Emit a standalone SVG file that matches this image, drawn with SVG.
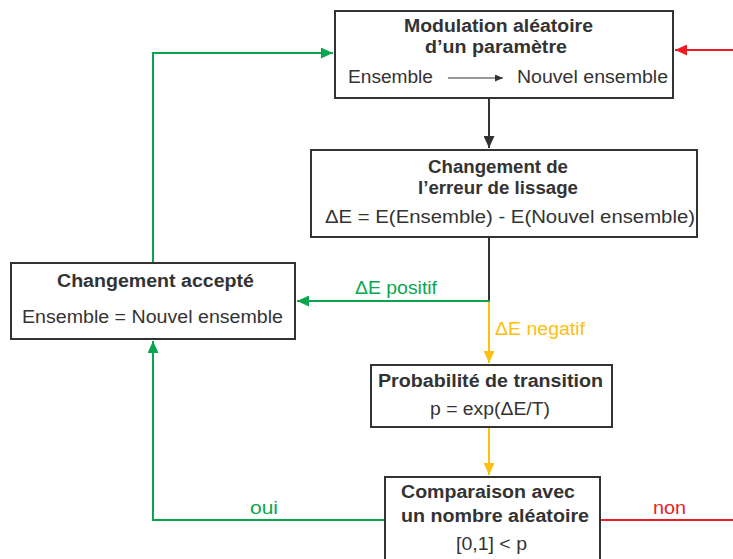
<svg xmlns="http://www.w3.org/2000/svg" width="733" height="559" viewBox="0 0 733 559">
<style>
.box{fill:#fff;stroke:#333;stroke-width:2}
.t{font-family:"Liberation Sans",Arial,sans-serif;font-size:18px;fill:#333}
.b{font-weight:bold}
.c{fill:none;stroke-width:2}
.g{stroke:#0aa64f}.r{stroke:#ed1c24}.y{stroke:#fdc010}.k{stroke:#333}
.lg{fill:#0aa64f}.lr{fill:#ed1c24}.ly{fill:#fdc010}
</style>
<defs>
<marker id="ag" markerUnits="userSpaceOnUse" markerWidth="13" markerHeight="11" refX="12" refY="5.5" orient="auto"><path d="M0,0 L12,5.5 L0,11 z" fill="#0aa64f"/></marker>
<marker id="ar" markerUnits="userSpaceOnUse" markerWidth="13" markerHeight="11" refX="12" refY="5.5" orient="auto"><path d="M0,0 L12,5.5 L0,11 z" fill="#ed1c24"/></marker>
<marker id="ay" markerUnits="userSpaceOnUse" markerWidth="13" markerHeight="11" refX="12" refY="5.5" orient="auto"><path d="M0,0 L12,5.5 L0,11 z" fill="#fdc010"/></marker>
<marker id="ak" markerUnits="userSpaceOnUse" markerWidth="13" markerHeight="11" refX="12" refY="5.5" orient="auto"><path d="M0,0 L12,5.5 L0,11 z" fill="#333"/></marker>
<marker id="as" markerUnits="userSpaceOnUse" markerWidth="9" markerHeight="7" refX="8" refY="3.5" orient="auto"><path d="M0,0 L8,3.5 L0,7 z" fill="#333"/></marker>
</defs>
<rect width="733" height="559" fill="#fff"/>
<g id="connectors">
<path class="c r" d="M733,50 H675" marker-end="url(#ar)"/>
<path class="c k" d="M489,99 V148" marker-end="url(#ak)"/>
<path class="c g" d="M153,262 V53 H333" marker-end="url(#ag)"/>
<path class="c k" d="M489,238 V302"/>
<path class="c g" d="M490,301 H297" marker-end="url(#ag)"/>
<path class="c y" d="M489,302 V363" marker-end="url(#ay)"/>
<path class="c y" d="M489,428 V475" marker-end="url(#ay)"/>
<path class="c g" d="M384,520 H153 V341" marker-end="url(#ag)"/>
<path class="c r" d="M601,520 H733"/>
<text class="t lg" x="355" y="294" textLength="82" lengthAdjust="spacingAndGlyphs">ΔE positif</text>
<text class="t ly" x="495" y="335" textLength="90" lengthAdjust="spacingAndGlyphs">ΔE negatif</text>
<text class="t lg" x="250" y="514" textLength="28" lengthAdjust="spacingAndGlyphs">oui</text>
<text class="t lr" x="653" y="514" textLength="33" lengthAdjust="spacingAndGlyphs">non</text>
</g>
<g id="n1">
<rect class="box" x="335" y="11" width="338" height="87"/>
<text class="t b" x="404" y="32" textLength="189" lengthAdjust="spacingAndGlyphs">Modulation aléatoire</text>
<text class="t b" x="425" y="53" textLength="142" lengthAdjust="spacingAndGlyphs">d’un paramètre</text>
<text class="t" x="348" y="83" textLength="85" lengthAdjust="spacingAndGlyphs">Ensemble</text>
<path d="M448,78 H503" stroke="#333" stroke-width="1.2" marker-end="url(#as)"/>
<text class="t" x="517" y="83" textLength="151" lengthAdjust="spacingAndGlyphs">Nouvel ensemble</text>
</g>
<g id="n2">
<rect class="box" x="311" y="150" width="386" height="87"/>
<text class="t b" x="428" y="173" textLength="140" lengthAdjust="spacingAndGlyphs">Changement de</text>
<text class="t b" x="418" y="194" textLength="160" lengthAdjust="spacingAndGlyphs">l’erreur de lissage</text>
<text class="t" x="325" y="223" textLength="370" lengthAdjust="spacingAndGlyphs">ΔE = E(Ensemble) - E(Nouvel ensemble)</text>
</g>
<g id="n3">
<rect class="box" x="11" y="263" width="284" height="76"/>
<text class="t b" x="57" y="287" textLength="197" lengthAdjust="spacingAndGlyphs">Changement accepté</text>
<text class="t" x="22" y="323" textLength="261" lengthAdjust="spacingAndGlyphs">Ensemble = Nouvel ensemble</text>
</g>
<g id="n4">
<rect class="box" x="371" y="365" width="241" height="62"/>
<text class="t b" x="378" y="387" textLength="225" lengthAdjust="spacingAndGlyphs">Probabilité de transition</text>
<text class="t" x="430" y="415" textLength="120" lengthAdjust="spacingAndGlyphs">p = exp(ΔE/T)</text>
</g>
<g id="n5">
<rect class="box" x="385" y="477" width="215" height="95"/>
<text class="t b" x="401" y="498" textLength="174" lengthAdjust="spacingAndGlyphs">Comparaison avec</text>
<text class="t b" x="401" y="522" textLength="188" lengthAdjust="spacingAndGlyphs">un nombre aléatoire</text>
<text class="t" x="456" y="550" textLength="71" lengthAdjust="spacingAndGlyphs">[0,1] &lt; p</text>
</g>
</svg>
